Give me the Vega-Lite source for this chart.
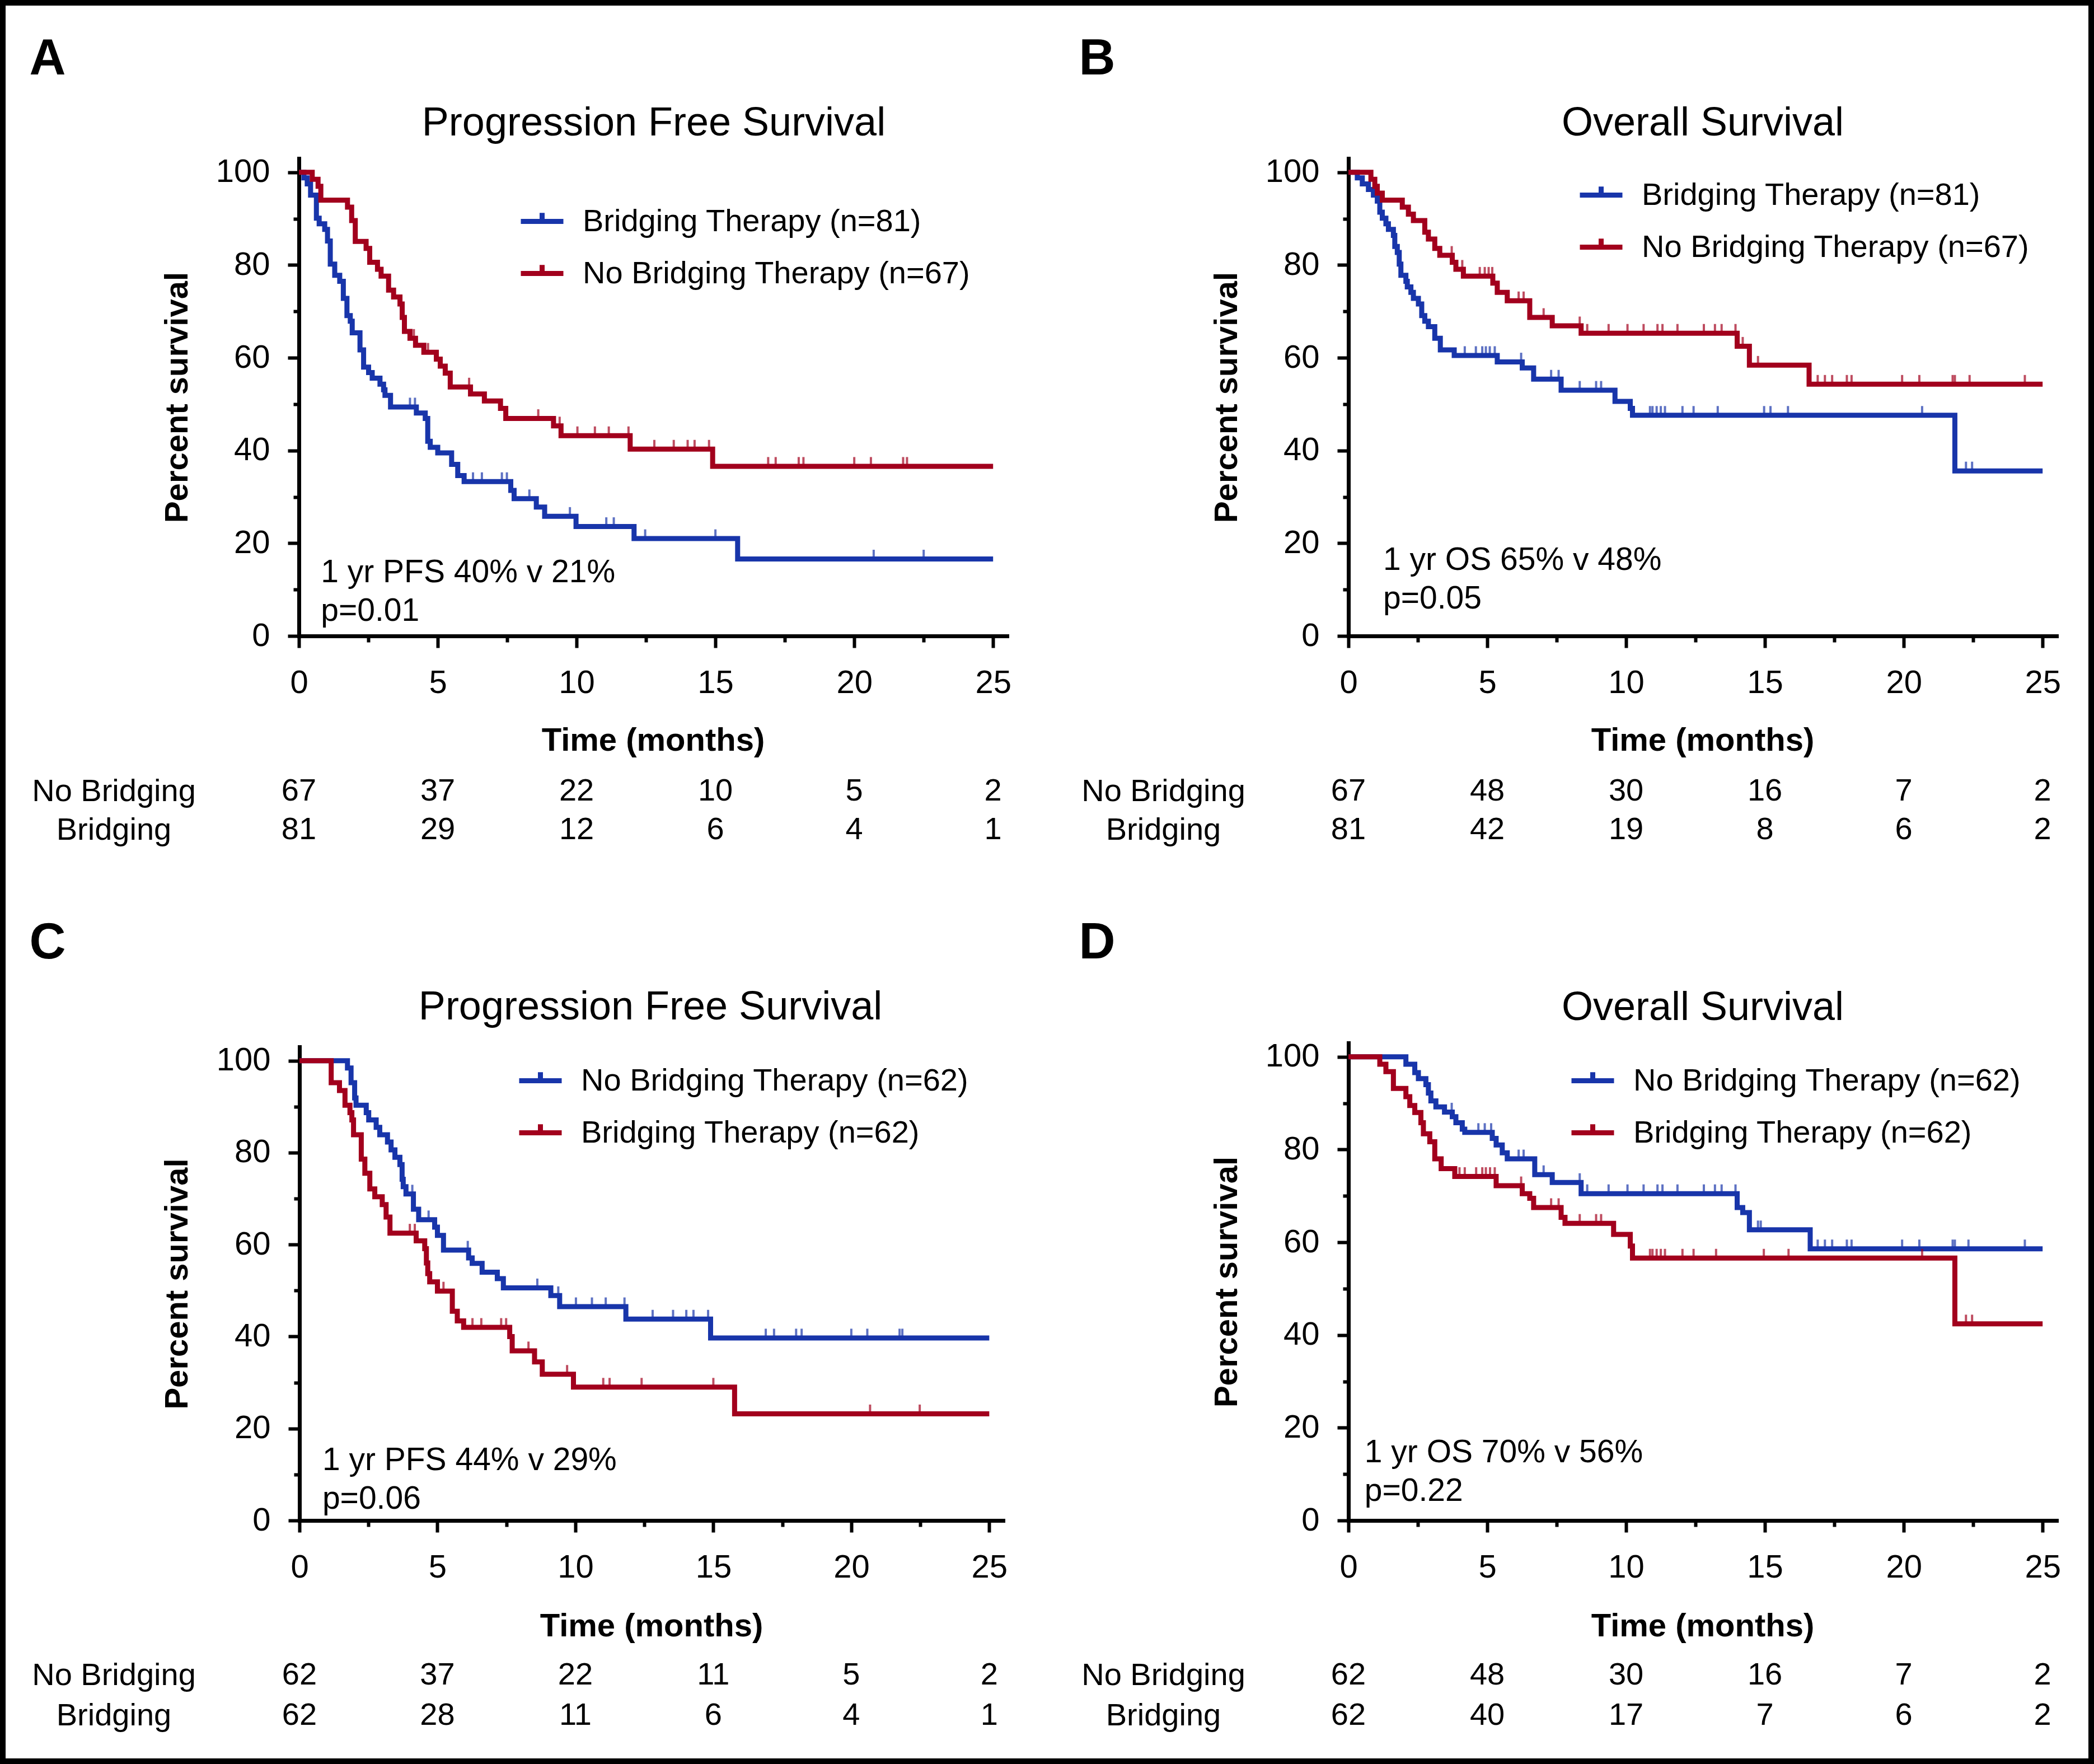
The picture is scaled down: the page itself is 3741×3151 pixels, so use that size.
{
"$schema": "https://vega.github.io/schema/vega-lite/v6.json",
"width": 3741, "height": 3151, "autosize": "none", "padding": 0, "background": "white",
"config": {
  "view": {"stroke": "black", "strokeWidth": 20},
  "font": "Liberation Sans",
  "text": {"color": "black", "font": "Liberation Sans"},
  "axis": {"labelColor": "black", "domainColor": "black", "tickColor": "black", "titleColor": "black", "grid": false, "labelFont": "Liberation Sans", "labelFontSize": 58, "tickWidth": 6, "domainWidth": 7, "domainCap": "square", "labelFlush": false, "labelOverlap": false, "labelBound": false, "labelLimit": 2000, "titleFont": "Liberation Sans", "titleFontWeight": "bold", "titleFontSize": 58},
  "legend": {"orient": "none", "padding": 0, "labelFont": "Liberation Sans", "labelFontSize": 56, "labelColor": "black", "labelLimit": 2000, "symbolSize": 5776, "symbolStrokeWidth": 9, "symbolType": "M-1,0L1,0M0,0L0,-0.4", "labelOffset": 30, "rowPadding": 22}
},
"datasets": {
"km": [
{"p":"A","g":"Br","t":0,"s":100},{"p":"A","g":"Br","t":0.18,"s":98.8},{"p":"A","g":"Br","t":0.3,"s":97.5},{"p":"A","g":"Br","t":0.42,"s":95.1},{"p":"A","g":"Br","t":0.63,"s":90.1},{"p":"A","g":"Br","t":0.73,"s":88.9},{"p":"A","g":"Br","t":0.93,"s":87.7},{"p":"A","g":"Br","t":1.03,"s":85.2},{"p":"A","g":"Br","t":1.13,"s":80.2},{"p":"A","g":"Br","t":1.29,"s":77.8},{"p":"A","g":"Br","t":1.47,"s":76.5},{"p":"A","g":"Br","t":1.6,"s":72.8},{"p":"A","g":"Br","t":1.73,"s":69.1},{"p":"A","g":"Br","t":1.85,"s":67.9},{"p":"A","g":"Br","t":1.92,"s":65.4},{"p":"A","g":"Br","t":2.2,"s":61.7},{"p":"A","g":"Br","t":2.33,"s":58},{"p":"A","g":"Br","t":2.51,"s":56.8},{"p":"A","g":"Br","t":2.64,"s":55.6},{"p":"A","g":"Br","t":2.92,"s":54.3},{"p":"A","g":"Br","t":3.05,"s":53.1},{"p":"A","g":"Br","t":3.1,"s":51.9},{"p":"A","g":"Br","t":3.3,"s":49.4},{"p":"A","g":"Br","t":4.0,"s":49.4,"c":1},{"p":"A","g":"Br","t":4.18,"s":49.4,"c":1},{"p":"A","g":"Br","t":4.23,"s":48.1},{"p":"A","g":"Br","t":4.55,"s":46.9},{"p":"A","g":"Br","t":4.64,"s":42},{"p":"A","g":"Br","t":4.73,"s":40.7},{"p":"A","g":"Br","t":5.0,"s":39.5},{"p":"A","g":"Br","t":5.5,"s":37},{"p":"A","g":"Br","t":5.72,"s":34.6},{"p":"A","g":"Br","t":5.95,"s":33.3},{"p":"A","g":"Br","t":6.27,"s":33.3,"c":1},{"p":"A","g":"Br","t":6.59,"s":33.3,"c":1},{"p":"A","g":"Br","t":7.31,"s":33.3,"c":1},{"p":"A","g":"Br","t":7.49,"s":33.3,"c":1},{"p":"A","g":"Br","t":7.63,"s":31.4},{"p":"A","g":"Br","t":7.75,"s":29.6},{"p":"A","g":"Br","t":8.3,"s":29.6,"c":1},{"p":"A","g":"Br","t":8.55,"s":27.8},{"p":"A","g":"Br","t":8.85,"s":25.8},{"p":"A","g":"Br","t":9.76,"s":25.8,"c":1},{"p":"A","g":"Br","t":9.98,"s":23.6},{"p":"A","g":"Br","t":11.07,"s":23.6,"c":1},{"p":"A","g":"Br","t":11.34,"s":23.6,"c":1},{"p":"A","g":"Br","t":12.07,"s":21},{"p":"A","g":"Br","t":12.47,"s":21,"c":1},{"p":"A","g":"Br","t":15.0,"s":21,"c":1},{"p":"A","g":"Br","t":15.8,"s":16.6},{"p":"A","g":"Br","t":20.7,"s":16.6,"c":1},{"p":"A","g":"Br","t":22.5,"s":16.6,"c":1},{"p":"A","g":"Br","t":25,"s":16.6},
{"p":"A","g":"NB","t":0,"s":100},{"p":"A","g":"NB","t":0.48,"s":98.5},{"p":"A","g":"NB","t":0.69,"s":97},{"p":"A","g":"NB","t":0.79,"s":94},{"p":"A","g":"NB","t":1.75,"s":92.5},{"p":"A","g":"NB","t":1.9,"s":89.6},{"p":"A","g":"NB","t":2.03,"s":85.1},{"p":"A","g":"NB","t":2.42,"s":83.6},{"p":"A","g":"NB","t":2.55,"s":80.6},{"p":"A","g":"NB","t":2.83,"s":79.1},{"p":"A","g":"NB","t":2.96,"s":77.6},{"p":"A","g":"NB","t":3.23,"s":74.6},{"p":"A","g":"NB","t":3.41,"s":73.1},{"p":"A","g":"NB","t":3.64,"s":71.6},{"p":"A","g":"NB","t":3.72,"s":68.7},{"p":"A","g":"NB","t":3.8,"s":65.7},{"p":"A","g":"NB","t":4.0,"s":64.2},{"p":"A","g":"NB","t":4.14,"s":64.2,"c":1},{"p":"A","g":"NB","t":4.2,"s":62.7},{"p":"A","g":"NB","t":4.5,"s":61.2},{"p":"A","g":"NB","t":4.65,"s":61.2,"c":1},{"p":"A","g":"NB","t":4.95,"s":59.7},{"p":"A","g":"NB","t":5.09,"s":58.2},{"p":"A","g":"NB","t":5.27,"s":56.7},{"p":"A","g":"NB","t":5.45,"s":53.7},{"p":"A","g":"NB","t":6.13,"s":53.7,"c":1},{"p":"A","g":"NB","t":6.18,"s":52.2},{"p":"A","g":"NB","t":6.68,"s":50.7},{"p":"A","g":"NB","t":7.26,"s":49.1},{"p":"A","g":"NB","t":7.45,"s":46.9},{"p":"A","g":"NB","t":8.62,"s":46.9,"c":1},{"p":"A","g":"NB","t":9.17,"s":45.3},{"p":"A","g":"NB","t":9.39,"s":45.3,"c":1},{"p":"A","g":"NB","t":9.44,"s":43.2},{"p":"A","g":"NB","t":10.03,"s":43.2,"c":1},{"p":"A","g":"NB","t":10.66,"s":43.2,"c":1},{"p":"A","g":"NB","t":11.16,"s":43.2,"c":1},{"p":"A","g":"NB","t":11.87,"s":43.2,"c":1},{"p":"A","g":"NB","t":11.93,"s":40.3},{"p":"A","g":"NB","t":12.8,"s":40.3,"c":1},{"p":"A","g":"NB","t":13.5,"s":40.3,"c":1},{"p":"A","g":"NB","t":14.0,"s":40.3,"c":1},{"p":"A","g":"NB","t":14.25,"s":40.3,"c":1},{"p":"A","g":"NB","t":14.77,"s":40.3,"c":1},{"p":"A","g":"NB","t":14.9,"s":36.6},{"p":"A","g":"NB","t":16.9,"s":36.6,"c":1},{"p":"A","g":"NB","t":17.17,"s":36.6,"c":1},{"p":"A","g":"NB","t":18.0,"s":36.6,"c":1},{"p":"A","g":"NB","t":18.17,"s":36.6,"c":1},{"p":"A","g":"NB","t":20.0,"s":36.6,"c":1},{"p":"A","g":"NB","t":20.6,"s":36.6,"c":1},{"p":"A","g":"NB","t":21.76,"s":36.6,"c":1},{"p":"A","g":"NB","t":21.9,"s":36.6,"c":1},{"p":"A","g":"NB","t":25,"s":36.6},
{"p":"B","g":"Br","t":0,"s":100},{"p":"B","g":"Br","t":0.32,"s":98.8},{"p":"B","g":"Br","t":0.5,"s":97.5},{"p":"B","g":"Br","t":0.72,"s":96.3},{"p":"B","g":"Br","t":0.9,"s":95.1},{"p":"B","g":"Br","t":1.04,"s":93.8},{"p":"B","g":"Br","t":1.13,"s":91.4},{"p":"B","g":"Br","t":1.22,"s":90.1},{"p":"B","g":"Br","t":1.35,"s":88.9},{"p":"B","g":"Br","t":1.44,"s":87.7},{"p":"B","g":"Br","t":1.62,"s":86.4},{"p":"B","g":"Br","t":1.67,"s":84},{"p":"B","g":"Br","t":1.76,"s":82.7},{"p":"B","g":"Br","t":1.83,"s":80.2},{"p":"B","g":"Br","t":1.89,"s":77.8},{"p":"B","g":"Br","t":2.07,"s":76.5},{"p":"B","g":"Br","t":2.12,"s":75.3},{"p":"B","g":"Br","t":2.25,"s":74.1},{"p":"B","g":"Br","t":2.34,"s":72.8},{"p":"B","g":"Br","t":2.52,"s":71.6},{"p":"B","g":"Br","t":2.64,"s":69.1},{"p":"B","g":"Br","t":2.75,"s":67.9},{"p":"B","g":"Br","t":2.88,"s":66.7},{"p":"B","g":"Br","t":3.11,"s":64.2},{"p":"B","g":"Br","t":3.31,"s":61.7},{"p":"B","g":"Br","t":3.81,"s":60.5},{"p":"B","g":"Br","t":4.19,"s":60.5,"c":1},{"p":"B","g":"Br","t":4.59,"s":60.5,"c":1},{"p":"B","g":"Br","t":4.82,"s":60.5,"c":1},{"p":"B","g":"Br","t":4.95,"s":60.5,"c":1},{"p":"B","g":"Br","t":5.09,"s":60.5,"c":1},{"p":"B","g":"Br","t":5.27,"s":60.5,"c":1},{"p":"B","g":"Br","t":5.36,"s":59.1},{"p":"B","g":"Br","t":6.22,"s":59.1,"c":1},{"p":"B","g":"Br","t":6.26,"s":57.8},{"p":"B","g":"Br","t":6.67,"s":55.4},{"p":"B","g":"Br","t":7.3,"s":55.4,"c":1},{"p":"B","g":"Br","t":7.57,"s":55.4,"c":1},{"p":"B","g":"Br","t":7.66,"s":53},{"p":"B","g":"Br","t":8.33,"s":53,"c":1},{"p":"B","g":"Br","t":8.92,"s":53,"c":1},{"p":"B","g":"Br","t":9.1,"s":53,"c":1},{"p":"B","g":"Br","t":9.6,"s":50.6},{"p":"B","g":"Br","t":10.15,"s":49.1},{"p":"B","g":"Br","t":10.23,"s":47.6},{"p":"B","g":"Br","t":10.86,"s":47.6,"c":1},{"p":"B","g":"Br","t":10.95,"s":47.6,"c":1},{"p":"B","g":"Br","t":11.1,"s":47.6,"c":1},{"p":"B","g":"Br","t":11.25,"s":47.6,"c":1},{"p":"B","g":"Br","t":11.4,"s":47.6,"c":1},{"p":"B","g":"Br","t":12.03,"s":47.6,"c":1},{"p":"B","g":"Br","t":12.43,"s":47.6,"c":1},{"p":"B","g":"Br","t":13.3,"s":47.6,"c":1},{"p":"B","g":"Br","t":14.97,"s":47.6,"c":1},{"p":"B","g":"Br","t":15.2,"s":47.6,"c":1},{"p":"B","g":"Br","t":15.83,"s":47.6,"c":1},{"p":"B","g":"Br","t":20.66,"s":47.6,"c":1},{"p":"B","g":"Br","t":21.84,"s":35.6},{"p":"B","g":"Br","t":22.24,"s":35.6,"c":1},{"p":"B","g":"Br","t":22.46,"s":35.6,"c":1},{"p":"B","g":"Br","t":25,"s":35.6},
{"p":"B","g":"NB","t":0,"s":100},{"p":"B","g":"NB","t":0.81,"s":98.5},{"p":"B","g":"NB","t":0.95,"s":97},{"p":"B","g":"NB","t":1.04,"s":95.5},{"p":"B","g":"NB","t":1.22,"s":94},{"p":"B","g":"NB","t":1.94,"s":92.5},{"p":"B","g":"NB","t":2.16,"s":91},{"p":"B","g":"NB","t":2.34,"s":89.6},{"p":"B","g":"NB","t":2.75,"s":87.1},{"p":"B","g":"NB","t":2.88,"s":85.6},{"p":"B","g":"NB","t":3.11,"s":83.6},{"p":"B","g":"NB","t":3.29,"s":82.1},{"p":"B","g":"NB","t":3.72,"s":82.1,"c":1},{"p":"B","g":"NB","t":3.74,"s":80.6},{"p":"B","g":"NB","t":3.87,"s":79.1},{"p":"B","g":"NB","t":4.1,"s":79.1,"c":1},{"p":"B","g":"NB","t":4.14,"s":77.6},{"p":"B","g":"NB","t":4.73,"s":77.6,"c":1},{"p":"B","g":"NB","t":4.91,"s":77.6,"c":1},{"p":"B","g":"NB","t":5.05,"s":77.6,"c":1},{"p":"B","g":"NB","t":5.18,"s":77.6,"c":1},{"p":"B","g":"NB","t":5.2,"s":76.1},{"p":"B","g":"NB","t":5.36,"s":74.1},{"p":"B","g":"NB","t":5.72,"s":72.3},{"p":"B","g":"NB","t":6.13,"s":72.3,"c":1},{"p":"B","g":"NB","t":6.31,"s":72.3,"c":1},{"p":"B","g":"NB","t":6.53,"s":68.7},{"p":"B","g":"NB","t":7.03,"s":68.7,"c":1},{"p":"B","g":"NB","t":7.34,"s":66.9},{"p":"B","g":"NB","t":8.33,"s":66.9,"c":1},{"p":"B","g":"NB","t":8.38,"s":65.3},{"p":"B","g":"NB","t":8.6,"s":65.3,"c":1},{"p":"B","g":"NB","t":9.37,"s":65.3,"c":1},{"p":"B","g":"NB","t":10.05,"s":65.3,"c":1},{"p":"B","g":"NB","t":10.63,"s":65.3,"c":1},{"p":"B","g":"NB","t":11.13,"s":65.3,"c":1},{"p":"B","g":"NB","t":11.31,"s":65.3,"c":1},{"p":"B","g":"NB","t":11.85,"s":65.3,"c":1},{"p":"B","g":"NB","t":12.8,"s":65.3,"c":1},{"p":"B","g":"NB","t":13.2,"s":65.3,"c":1},{"p":"B","g":"NB","t":13.44,"s":65.3,"c":1},{"p":"B","g":"NB","t":13.94,"s":65.3,"c":1},{"p":"B","g":"NB","t":14.0,"s":62.5},{"p":"B","g":"NB","t":14.2,"s":62.5,"c":1},{"p":"B","g":"NB","t":14.44,"s":58.4},{"p":"B","g":"NB","t":14.75,"s":58.4,"c":1},{"p":"B","g":"NB","t":16.59,"s":54.3},{"p":"B","g":"NB","t":16.9,"s":54.3,"c":1},{"p":"B","g":"NB","t":17.16,"s":54.3,"c":1},{"p":"B","g":"NB","t":17.42,"s":54.3,"c":1},{"p":"B","g":"NB","t":17.95,"s":54.3,"c":1},{"p":"B","g":"NB","t":18.12,"s":54.3,"c":1},{"p":"B","g":"NB","t":19.94,"s":54.3,"c":1},{"p":"B","g":"NB","t":20.56,"s":54.3,"c":1},{"p":"B","g":"NB","t":21.76,"s":54.3,"c":1},{"p":"B","g":"NB","t":21.84,"s":54.3,"c":1},{"p":"B","g":"NB","t":22.37,"s":54.3,"c":1},{"p":"B","g":"NB","t":24.36,"s":54.3,"c":1},{"p":"B","g":"NB","t":25,"s":54.3},
{"p":"C","g":"NB","t":0,"s":100},{"p":"C","g":"NB","t":1.74,"s":98.4},{"p":"C","g":"NB","t":1.87,"s":95.2},{"p":"C","g":"NB","t":2.0,"s":91.9},{"p":"C","g":"NB","t":2.05,"s":90.3},{"p":"C","g":"NB","t":2.42,"s":88.7},{"p":"C","g":"NB","t":2.51,"s":87.1},{"p":"C","g":"NB","t":2.78,"s":85.5},{"p":"C","g":"NB","t":2.91,"s":83.9},{"p":"C","g":"NB","t":3.19,"s":82.3},{"p":"C","g":"NB","t":3.32,"s":80.6},{"p":"C","g":"NB","t":3.46,"s":79},{"p":"C","g":"NB","t":3.64,"s":77.4},{"p":"C","g":"NB","t":3.72,"s":74.2},{"p":"C","g":"NB","t":3.76,"s":72.6},{"p":"C","g":"NB","t":3.86,"s":71},{"p":"C","g":"NB","t":4.09,"s":71,"c":1},{"p":"C","g":"NB","t":4.13,"s":67.7},{"p":"C","g":"NB","t":4.32,"s":65.4},{"p":"C","g":"NB","t":4.68,"s":65.4,"c":1},{"p":"C","g":"NB","t":4.9,"s":63.8},{"p":"C","g":"NB","t":5.0,"s":62},{"p":"C","g":"NB","t":5.22,"s":58.8},{"p":"C","g":"NB","t":6.1,"s":58.8,"c":1},{"p":"C","g":"NB","t":6.13,"s":57.1},{"p":"C","g":"NB","t":6.26,"s":55.9},{"p":"C","g":"NB","t":6.62,"s":54},{"p":"C","g":"NB","t":7.17,"s":52.6},{"p":"C","g":"NB","t":7.39,"s":50.6},{"p":"C","g":"NB","t":8.62,"s":50.6,"c":1},{"p":"C","g":"NB","t":9.11,"s":48.9},{"p":"C","g":"NB","t":9.38,"s":48.9,"c":1},{"p":"C","g":"NB","t":9.43,"s":46.5},{"p":"C","g":"NB","t":10.02,"s":46.5,"c":1},{"p":"C","g":"NB","t":10.6,"s":46.5,"c":1},{"p":"C","g":"NB","t":11.1,"s":46.5,"c":1},{"p":"C","g":"NB","t":11.78,"s":46.5,"c":1},{"p":"C","g":"NB","t":11.83,"s":43.8},{"p":"C","g":"NB","t":12.8,"s":43.8,"c":1},{"p":"C","g":"NB","t":13.54,"s":43.8,"c":1},{"p":"C","g":"NB","t":14.02,"s":43.8,"c":1},{"p":"C","g":"NB","t":14.28,"s":43.8,"c":1},{"p":"C","g":"NB","t":14.81,"s":43.8,"c":1},{"p":"C","g":"NB","t":14.9,"s":39.7},{"p":"C","g":"NB","t":16.9,"s":39.7,"c":1},{"p":"C","g":"NB","t":17.2,"s":39.7,"c":1},{"p":"C","g":"NB","t":18.0,"s":39.7,"c":1},{"p":"C","g":"NB","t":18.2,"s":39.7,"c":1},{"p":"C","g":"NB","t":20.0,"s":39.7,"c":1},{"p":"C","g":"NB","t":20.58,"s":39.7,"c":1},{"p":"C","g":"NB","t":21.75,"s":39.7,"c":1},{"p":"C","g":"NB","t":21.85,"s":39.7,"c":1},{"p":"C","g":"NB","t":25,"s":39.7},
{"p":"C","g":"Br","t":0,"s":100},{"p":"C","g":"Br","t":1.15,"s":95.2},{"p":"C","g":"Br","t":1.45,"s":93.5},{"p":"C","g":"Br","t":1.65,"s":90.3},{"p":"C","g":"Br","t":1.83,"s":88.7},{"p":"C","g":"Br","t":1.9,"s":87.1},{"p":"C","g":"Br","t":1.96,"s":83.9},{"p":"C","g":"Br","t":2.24,"s":78.6},{"p":"C","g":"Br","t":2.37,"s":75.5},{"p":"C","g":"Br","t":2.55,"s":72.1},{"p":"C","g":"Br","t":2.73,"s":70.4},{"p":"C","g":"Br","t":3.0,"s":68.7},{"p":"C","g":"Br","t":3.14,"s":66},{"p":"C","g":"Br","t":3.28,"s":62.5},{"p":"C","g":"Br","t":4.0,"s":62.5,"c":1},{"p":"C","g":"Br","t":4.18,"s":62.5,"c":1},{"p":"C","g":"Br","t":4.23,"s":60.8},{"p":"C","g":"Br","t":4.54,"s":59.1},{"p":"C","g":"Br","t":4.6,"s":56},{"p":"C","g":"Br","t":4.65,"s":53.7},{"p":"C","g":"Br","t":4.72,"s":51.9},{"p":"C","g":"Br","t":5.0,"s":49.9},{"p":"C","g":"Br","t":5.22,"s":49.9,"c":1},{"p":"C","g":"Br","t":5.54,"s":45.5},{"p":"C","g":"Br","t":5.72,"s":43.4},{"p":"C","g":"Br","t":5.95,"s":42},{"p":"C","g":"Br","t":6.27,"s":42,"c":1},{"p":"C","g":"Br","t":6.59,"s":42,"c":1},{"p":"C","g":"Br","t":7.31,"s":42,"c":1},{"p":"C","g":"Br","t":7.49,"s":42,"c":1},{"p":"C","g":"Br","t":7.62,"s":40},{"p":"C","g":"Br","t":7.71,"s":36.9},{"p":"C","g":"Br","t":8.3,"s":36.9,"c":1},{"p":"C","g":"Br","t":8.52,"s":34.5},{"p":"C","g":"Br","t":8.8,"s":31.8},{"p":"C","g":"Br","t":9.7,"s":31.8,"c":1},{"p":"C","g":"Br","t":9.93,"s":29},{"p":"C","g":"Br","t":11.01,"s":29,"c":1},{"p":"C","g":"Br","t":11.24,"s":29,"c":1},{"p":"C","g":"Br","t":12.4,"s":29,"c":1},{"p":"C","g":"Br","t":15.0,"s":29,"c":1},{"p":"C","g":"Br","t":15.77,"s":23.2},{"p":"C","g":"Br","t":20.68,"s":23.2,"c":1},{"p":"C","g":"Br","t":22.48,"s":23.2,"c":1},{"p":"C","g":"Br","t":25,"s":23.2},
{"p":"D","g":"NB","t":0,"s":100},{"p":"D","g":"NB","t":2.07,"s":98.4},{"p":"D","g":"NB","t":2.39,"s":96.6},{"p":"D","g":"NB","t":2.52,"s":95.3},{"p":"D","g":"NB","t":2.79,"s":94},{"p":"D","g":"NB","t":2.88,"s":92.2},{"p":"D","g":"NB","t":2.97,"s":90.5},{"p":"D","g":"NB","t":3.15,"s":89.2},{"p":"D","g":"NB","t":3.46,"s":88.1},{"p":"D","g":"NB","t":3.72,"s":88.1,"c":1},{"p":"D","g":"NB","t":3.74,"s":87.1},{"p":"D","g":"NB","t":3.87,"s":85.8},{"p":"D","g":"NB","t":4.1,"s":84.4},{"p":"D","g":"NB","t":4.19,"s":83.7},{"p":"D","g":"NB","t":4.68,"s":83.7,"c":1},{"p":"D","g":"NB","t":4.91,"s":83.7,"c":1},{"p":"D","g":"NB","t":5.14,"s":83.7,"c":1},{"p":"D","g":"NB","t":5.18,"s":82.4},{"p":"D","g":"NB","t":5.32,"s":81},{"p":"D","g":"NB","t":5.54,"s":79.3},{"p":"D","g":"NB","t":5.72,"s":78},{"p":"D","g":"NB","t":6.13,"s":78,"c":1},{"p":"D","g":"NB","t":6.31,"s":78,"c":1},{"p":"D","g":"NB","t":6.71,"s":74.6},{"p":"D","g":"NB","t":7.03,"s":74.6,"c":1},{"p":"D","g":"NB","t":7.34,"s":72.9},{"p":"D","g":"NB","t":8.33,"s":72.9,"c":1},{"p":"D","g":"NB","t":8.38,"s":70.5},{"p":"D","g":"NB","t":8.6,"s":70.5,"c":1},{"p":"D","g":"NB","t":9.37,"s":70.5,"c":1},{"p":"D","g":"NB","t":10.05,"s":70.5,"c":1},{"p":"D","g":"NB","t":10.63,"s":70.5,"c":1},{"p":"D","g":"NB","t":11.13,"s":70.5,"c":1},{"p":"D","g":"NB","t":11.31,"s":70.5,"c":1},{"p":"D","g":"NB","t":11.85,"s":70.5,"c":1},{"p":"D","g":"NB","t":12.8,"s":70.5,"c":1},{"p":"D","g":"NB","t":13.2,"s":70.5,"c":1},{"p":"D","g":"NB","t":13.44,"s":70.5,"c":1},{"p":"D","g":"NB","t":13.94,"s":70.5,"c":1},{"p":"D","g":"NB","t":14.0,"s":67.5},{"p":"D","g":"NB","t":14.2,"s":66.4},{"p":"D","g":"NB","t":14.44,"s":62.7},{"p":"D","g":"NB","t":14.75,"s":62.7,"c":1},{"p":"D","g":"NB","t":14.85,"s":62.7,"c":1},{"p":"D","g":"NB","t":16.63,"s":58.6},{"p":"D","g":"NB","t":16.9,"s":58.6,"c":1},{"p":"D","g":"NB","t":17.16,"s":58.6,"c":1},{"p":"D","g":"NB","t":17.42,"s":58.6,"c":1},{"p":"D","g":"NB","t":17.95,"s":58.6,"c":1},{"p":"D","g":"NB","t":18.12,"s":58.6,"c":1},{"p":"D","g":"NB","t":19.94,"s":58.6,"c":1},{"p":"D","g":"NB","t":20.56,"s":58.6,"c":1},{"p":"D","g":"NB","t":21.76,"s":58.6,"c":1},{"p":"D","g":"NB","t":21.84,"s":58.6,"c":1},{"p":"D","g":"NB","t":22.33,"s":58.6,"c":1},{"p":"D","g":"NB","t":24.36,"s":58.6,"c":1},{"p":"D","g":"NB","t":25,"s":58.6},
{"p":"D","g":"Br","t":0,"s":100},{"p":"D","g":"Br","t":1.13,"s":98.4},{"p":"D","g":"Br","t":1.35,"s":96.8},{"p":"D","g":"Br","t":1.62,"s":93.2},{"p":"D","g":"Br","t":2.07,"s":91.4},{"p":"D","g":"Br","t":2.21,"s":89.5},{"p":"D","g":"Br","t":2.39,"s":88},{"p":"D","g":"Br","t":2.61,"s":85.8},{"p":"D","g":"Br","t":2.7,"s":83.4},{"p":"D","g":"Br","t":2.93,"s":81.7},{"p":"D","g":"Br","t":3.11,"s":78},{"p":"D","g":"Br","t":3.34,"s":75.9},{"p":"D","g":"Br","t":3.83,"s":74.2},{"p":"D","g":"Br","t":4.0,"s":74.2,"c":1},{"p":"D","g":"Br","t":4.19,"s":74.2,"c":1},{"p":"D","g":"Br","t":4.6,"s":74.2,"c":1},{"p":"D","g":"Br","t":4.82,"s":74.2,"c":1},{"p":"D","g":"Br","t":4.95,"s":74.2,"c":1},{"p":"D","g":"Br","t":5.1,"s":74.2,"c":1},{"p":"D","g":"Br","t":5.27,"s":74.2,"c":1},{"p":"D","g":"Br","t":5.32,"s":72.2},{"p":"D","g":"Br","t":6.22,"s":72.2,"c":1},{"p":"D","g":"Br","t":6.26,"s":70.5},{"p":"D","g":"Br","t":6.53,"s":69.5},{"p":"D","g":"Br","t":6.67,"s":67.5},{"p":"D","g":"Br","t":7.3,"s":67.5,"c":1},{"p":"D","g":"Br","t":7.57,"s":67.5,"c":1},{"p":"D","g":"Br","t":7.66,"s":65.4},{"p":"D","g":"Br","t":7.8,"s":64.1},{"p":"D","g":"Br","t":8.33,"s":64.1,"c":1},{"p":"D","g":"Br","t":8.92,"s":64.1,"c":1},{"p":"D","g":"Br","t":9.1,"s":64.1,"c":1},{"p":"D","g":"Br","t":9.55,"s":61.7},{"p":"D","g":"Br","t":10.15,"s":59.2},{"p":"D","g":"Br","t":10.23,"s":56.6},{"p":"D","g":"Br","t":10.86,"s":56.6,"c":1},{"p":"D","g":"Br","t":10.95,"s":56.6,"c":1},{"p":"D","g":"Br","t":11.1,"s":56.6,"c":1},{"p":"D","g":"Br","t":11.25,"s":56.6,"c":1},{"p":"D","g":"Br","t":11.4,"s":56.6,"c":1},{"p":"D","g":"Br","t":12.03,"s":56.6,"c":1},{"p":"D","g":"Br","t":12.43,"s":56.6,"c":1},{"p":"D","g":"Br","t":13.24,"s":56.6,"c":1},{"p":"D","g":"Br","t":14.96,"s":56.6,"c":1},{"p":"D","g":"Br","t":15.85,"s":56.6,"c":1},{"p":"D","g":"Br","t":20.66,"s":56.6,"c":1},{"p":"D","g":"Br","t":21.84,"s":42.4},{"p":"D","g":"Br","t":22.24,"s":42.4,"c":1},{"p":"D","g":"Br","t":22.46,"s":42.4,"c":1},{"p":"D","g":"Br","t":25,"s":42.4}
],
"risk": [
{"p":"A","r":"No Bridging","t":0,"n":67},{"p":"A","r":"No Bridging","t":5,"n":37},{"p":"A","r":"No Bridging","t":10,"n":22},{"p":"A","r":"No Bridging","t":15,"n":10},{"p":"A","r":"No Bridging","t":20,"n":5},{"p":"A","r":"No Bridging","t":25,"n":2},
{"p":"A","r":"Bridging","t":0,"n":81},{"p":"A","r":"Bridging","t":5,"n":29},{"p":"A","r":"Bridging","t":10,"n":12},{"p":"A","r":"Bridging","t":15,"n":6},{"p":"A","r":"Bridging","t":20,"n":4},{"p":"A","r":"Bridging","t":25,"n":1},
{"p":"B","r":"No Bridging","t":0,"n":67},{"p":"B","r":"No Bridging","t":5,"n":48},{"p":"B","r":"No Bridging","t":10,"n":30},{"p":"B","r":"No Bridging","t":15,"n":16},{"p":"B","r":"No Bridging","t":20,"n":7},{"p":"B","r":"No Bridging","t":25,"n":2},
{"p":"B","r":"Bridging","t":0,"n":81},{"p":"B","r":"Bridging","t":5,"n":42},{"p":"B","r":"Bridging","t":10,"n":19},{"p":"B","r":"Bridging","t":15,"n":8},{"p":"B","r":"Bridging","t":20,"n":6},{"p":"B","r":"Bridging","t":25,"n":2},
{"p":"C","r":"No Bridging","t":0,"n":62},{"p":"C","r":"No Bridging","t":5,"n":37},{"p":"C","r":"No Bridging","t":10,"n":22},{"p":"C","r":"No Bridging","t":15,"n":11},{"p":"C","r":"No Bridging","t":20,"n":5},{"p":"C","r":"No Bridging","t":25,"n":2},
{"p":"C","r":"Bridging","t":0,"n":62},{"p":"C","r":"Bridging","t":5,"n":28},{"p":"C","r":"Bridging","t":10,"n":11},{"p":"C","r":"Bridging","t":15,"n":6},{"p":"C","r":"Bridging","t":20,"n":4},{"p":"C","r":"Bridging","t":25,"n":1},
{"p":"D","r":"No Bridging","t":0,"n":62},{"p":"D","r":"No Bridging","t":5,"n":48},{"p":"D","r":"No Bridging","t":10,"n":30},{"p":"D","r":"No Bridging","t":15,"n":16},{"p":"D","r":"No Bridging","t":20,"n":7},{"p":"D","r":"No Bridging","t":25,"n":2},
{"p":"D","r":"Bridging","t":0,"n":62},{"p":"D","r":"Bridging","t":5,"n":40},{"p":"D","r":"Bridging","t":10,"n":17},{"p":"D","r":"Bridging","t":15,"n":7},{"p":"D","r":"Bridging","t":20,"n":6},{"p":"D","r":"Bridging","t":25,"n":2}
]
},
"layer": [
{
 "layer": [
  {"layer": [
   {"data": {"name": "km"}, "transform": [{"filter": "datum.p === 'A'"}],
    "mark": {"type": "line", "interpolate": "step-after", "strokeWidth": 9},
    "encoding": {
     "x": {"field": "t", "type": "quantitative", "scale": {"domain": [0, 25.5], "range": [534, 1799], "nice": false, "zero": false},
       "axis": {"orient": "bottom", "offset": -2015, "values": [0,5,10,15,20,25], "labelExpr": "'' + datum.value", "tickSize": 21, "labelPadding": 34, "title": "Time (months)", "titleY": 204, "titleBaseline": "alphabetic"}},
     "y": {"field": "s", "type": "quantitative", "scale": {"domain": [0, 103], "range": [1136, 283], "nice": false, "zero": false},
       "axis": {"orient": "left", "offset": -534, "values": [0,20,40,60,80,100], "labelExpr": "'' + datum.value", "tickSize": 20, "labelPadding": 32, "title": "Percent survival", "titleX": -200, "titleBaseline": "alphabetic"}},
     "color": {"field": "g", "type": "nominal", "scale": {"domain": ["Br", "NB"], "range": ["#1835AA", "#A2001D"]},
       "legend": {"title": null, "legendX": 926, "legendY": 353, "labelExpr": "datum.label === 'Br' ? 'Bridging Therapy (n=81)' : 'No Bridging Therapy (n=67)'"}}
    }},
   {"data": {"name": "km"}, "transform": [{"filter": "datum.p === 'A' && datum.c === 1"}],
    "mark": {"type": "tick", "orient": "vertical", "thickness": 4, "size": 17, "yOffset": -8},
    "encoding": {
     "x": {"field": "t", "type": "quantitative", "axis": {"orient": "top", "offset": -1136, "values": [2.5,7.5,12.5,17.5,22.5], "tickSize": -11, "labels": false, "domain": false, "title": null}},
     "y": {"field": "s", "type": "quantitative", "axis": {"orient": "right", "offset": -3207, "values": [10,30,50,70,90], "tickSize": -10, "labels": false, "domain": false, "title": null}},
     "color": {"field": "g", "type": "nominal", "legend": null}}},
   {"data": {"values": [{}]}, "mark": {"type": "text", "text": "Progression Free Survival", "fontSize": 72, "align": "center", "baseline": "alphabetic"},
    "encoding": {"x": {"datum": 12.78, "type": "quantitative", "axis": null}, "y": {"datum": 108.0, "type": "quantitative", "axis": null}}},
   {"data": {"values": [{}]}, "mark": {"type": "text", "text": "A", "fontSize": 90, "fontWeight": "bold", "align": "center", "baseline": "alphabetic"},
    "encoding": {"x": {"datum": -9.05, "type": "quantitative", "axis": null}, "y": {"datum": 121.1, "type": "quantitative", "axis": null}}},
   {"data": {"values": [{}]}, "mark": {"type": "text", "text": ["1 yr PFS 40% v 21%", "p=0.01"], "fontSize": 57, "lineHeight": 69, "align": "left", "baseline": "alphabetic"},
    "encoding": {"x": {"datum": 0.79, "type": "quantitative", "axis": null}, "y": {"datum": 11.6, "type": "quantitative", "axis": null}}}
  ]},
  {"data": {"name": "risk"}, "transform": [{"filter": "datum.p === 'A'"}],
   "mark": {"type": "text", "fontSize": 56, "align": "center", "baseline": "middle"},
   "encoding": {
    "x": {"field": "t", "type": "quantitative", "axis": null},
    "y": {"field": "r", "type": "nominal", "scale": {"type": "point", "domain": ["No Bridging", "Bridging"], "range": [1413, 1482], "padding": 0},
      "axis": {"orient": "left", "offset": -203, "domain": false, "ticks": false, "tickSize": 0, "labelPadding": 0, "labelAlign": "center", "labelBaseline": "middle", "labelFontSize": 56, "labelLimit": 2000, "title": null}},
    "text": {"field": "n", "type": "quantitative"}
   }}
 ],
 "resolve": {"scale": {"y": "independent"}}
},
{
 "layer": [
  {"layer": [
   {"data": {"name": "km"}, "transform": [{"filter": "datum.p === 'B'"}],
    "mark": {"type": "line", "interpolate": "step-after", "strokeWidth": 9},
    "encoding": {
     "x": {"field": "t", "type": "quantitative", "scale": {"domain": [0, 25.5], "range": [2409, 3674], "nice": false, "zero": false},
       "axis": {"orient": "bottom", "offset": -2015, "values": [0,5,10,15,20,25], "labelExpr": "'' + datum.value", "tickSize": 21, "labelPadding": 34, "title": "Time (months)", "titleY": 204, "titleBaseline": "alphabetic"}},
     "y": {"field": "s", "type": "quantitative", "scale": {"domain": [0, 103], "range": [1136, 283], "nice": false, "zero": false},
       "axis": {"orient": "left", "offset": -2409, "values": [0,20,40,60,80,100], "labelExpr": "'' + datum.value", "tickSize": 20, "labelPadding": 32, "title": "Percent survival", "titleX": -200, "titleBaseline": "alphabetic"}},
     "color": {"field": "g", "type": "nominal", "scale": {"domain": ["Br", "NB"], "range": ["#1835AA", "#A2001D"]},
       "legend": {"title": null, "legendX": 2818, "legendY": 306, "labelExpr": "datum.label === 'Br' ? 'Bridging Therapy (n=81)' : 'No Bridging Therapy (n=67)'"}}
    }},
   {"data": {"name": "km"}, "transform": [{"filter": "datum.p === 'B' && datum.c === 1"}],
    "mark": {"type": "tick", "orient": "vertical", "thickness": 4, "size": 17, "yOffset": -8},
    "encoding": {
     "x": {"field": "t", "type": "quantitative", "axis": {"orient": "top", "offset": -1136, "values": [2.5,7.5,12.5,17.5,22.5], "tickSize": -11, "labels": false, "domain": false, "title": null}},
     "y": {"field": "s", "type": "quantitative", "axis": {"orient": "right", "offset": -1332, "values": [10,30,50,70,90], "tickSize": -10, "labels": false, "domain": false, "title": null}},
     "color": {"field": "g", "type": "nominal", "legend": null}}},
   {"data": {"values": [{}]}, "mark": {"type": "text", "text": "Overall Survival", "fontSize": 72, "align": "center", "baseline": "alphabetic"},
    "encoding": {"x": {"datum": 12.76, "type": "quantitative", "axis": null}, "y": {"datum": 108.0, "type": "quantitative", "axis": null}}},
   {"data": {"values": [{}]}, "mark": {"type": "text", "text": "B", "fontSize": 90, "fontWeight": "bold", "align": "center", "baseline": "alphabetic"},
    "encoding": {"x": {"datum": -9.05, "type": "quantitative", "axis": null}, "y": {"datum": 121.1, "type": "quantitative", "axis": null}}},
   {"data": {"values": [{}]}, "mark": {"type": "text", "text": ["1 yr OS 65% v 48%", "p=0.05"], "fontSize": 57, "lineHeight": 69, "align": "left", "baseline": "alphabetic"},
    "encoding": {"x": {"datum": 1.25, "type": "quantitative", "axis": null}, "y": {"datum": 14.2, "type": "quantitative", "axis": null}}}
  ]},
  {"data": {"name": "risk"}, "transform": [{"filter": "datum.p === 'B'"}],
   "mark": {"type": "text", "fontSize": 56, "align": "center", "baseline": "middle"},
   "encoding": {
    "x": {"field": "t", "type": "quantitative", "axis": null},
    "y": {"field": "r", "type": "nominal", "scale": {"type": "point", "domain": ["No Bridging", "Bridging"], "range": [1413, 1482], "padding": 0},
      "axis": {"orient": "left", "offset": -2078, "domain": false, "ticks": false, "tickSize": 0, "labelPadding": 0, "labelAlign": "center", "labelBaseline": "middle", "labelFontSize": 56, "labelLimit": 2000, "title": null}},
    "text": {"field": "n", "type": "quantitative"}
   }}
 ],
 "resolve": {"scale": {"y": "independent"}}
},
{
 "layer": [
  {"layer": [
   {"data": {"name": "km"}, "transform": [{"filter": "datum.p === 'C'"}],
    "mark": {"type": "line", "interpolate": "step-after", "strokeWidth": 9},
    "encoding": {
     "x": {"field": "t", "type": "quantitative", "scale": {"domain": [0, 25.5], "range": [535, 1792], "nice": false, "zero": false},
       "axis": {"orient": "bottom", "offset": -435, "values": [0,5,10,15,20,25], "labelExpr": "'' + datum.value", "tickSize": 21, "labelPadding": 34, "title": "Time (months)", "titleY": 206, "titleBaseline": "alphabetic"}},
     "y": {"field": "s", "type": "quantitative", "scale": {"domain": [0, 103], "range": [2716, 1870], "nice": false, "zero": false},
       "axis": {"orient": "left", "offset": -535, "values": [0,20,40,60,80,100], "labelExpr": "'' + datum.value", "tickSize": 20, "labelPadding": 32, "title": "Percent survival", "titleX": -201, "titleBaseline": "alphabetic"}},
     "color": {"field": "g", "type": "nominal", "scale": {"domain": ["NB", "Br"], "range": ["#1835AA", "#A2001D"]},
       "legend": {"title": null, "legendX": 923, "legendY": 1888, "labelExpr": "datum.label === 'Br' ? 'Bridging Therapy (n=62)' : 'No Bridging Therapy (n=62)'"}}
    }},
   {"data": {"name": "km"}, "transform": [{"filter": "datum.p === 'C' && datum.c === 1"}],
    "mark": {"type": "tick", "orient": "vertical", "thickness": 4, "size": 17, "yOffset": -8},
    "encoding": {
     "x": {"field": "t", "type": "quantitative", "axis": {"orient": "top", "offset": -2716, "values": [2.5,7.5,12.5,17.5,22.5], "tickSize": -11, "labels": false, "domain": false, "title": null}},
     "y": {"field": "s", "type": "quantitative", "axis": {"orient": "right", "offset": -3206, "values": [10,30,50,70,90], "tickSize": -10, "labels": false, "domain": false, "title": null}},
     "color": {"field": "g", "type": "nominal", "legend": null}}},
   {"data": {"values": [{}]}, "mark": {"type": "text", "text": "Progression Free Survival", "fontSize": 72, "align": "center", "baseline": "alphabetic"},
    "encoding": {"x": {"datum": 12.72, "type": "quantitative", "axis": null}, "y": {"datum": 108.95, "type": "quantitative", "axis": null}}},
   {"data": {"values": [{}]}, "mark": {"type": "text", "text": "C", "fontSize": 90, "fontWeight": "bold", "align": "center", "baseline": "alphabetic"},
    "encoding": {"x": {"datum": -9.13, "type": "quantitative", "axis": null}, "y": {"datum": 122.2, "type": "quantitative", "axis": null}}},
   {"data": {"values": [{}]}, "mark": {"type": "text", "text": ["1 yr PFS 44% v 29%", "p=0.06"], "fontSize": 57, "lineHeight": 69, "align": "left", "baseline": "alphabetic"},
    "encoding": {"x": {"datum": 0.83, "type": "quantitative", "axis": null}, "y": {"datum": 11.0, "type": "quantitative", "axis": null}}}
  ]},
  {"data": {"name": "risk"}, "transform": [{"filter": "datum.p === 'C'"}],
   "mark": {"type": "text", "fontSize": 56, "align": "center", "baseline": "middle"},
   "encoding": {
    "x": {"field": "t", "type": "quantitative", "axis": null},
    "y": {"field": "r", "type": "nominal", "scale": {"type": "point", "domain": ["No Bridging", "Bridging"], "range": [2992, 3064], "padding": 0},
      "axis": {"orient": "left", "offset": -203, "domain": false, "ticks": false, "tickSize": 0, "labelPadding": 0, "labelAlign": "center", "labelBaseline": "middle", "labelFontSize": 56, "labelLimit": 2000, "title": null}},
    "text": {"field": "n", "type": "quantitative"}
   }}
 ],
 "resolve": {"scale": {"y": "independent"}}
},
{
 "layer": [
  {"layer": [
   {"data": {"name": "km"}, "transform": [{"filter": "datum.p === 'D'"}],
    "mark": {"type": "line", "interpolate": "step-after", "strokeWidth": 9},
    "encoding": {
     "x": {"field": "t", "type": "quantitative", "scale": {"domain": [0, 25.5], "range": [2409, 3674], "nice": false, "zero": false},
       "axis": {"orient": "bottom", "offset": -435, "values": [0,5,10,15,20,25], "labelExpr": "'' + datum.value", "tickSize": 21, "labelPadding": 34, "title": "Time (months)", "titleY": 206, "titleBaseline": "alphabetic"}},
     "y": {"field": "s", "type": "quantitative", "scale": {"domain": [0, 103], "range": [2716, 1863], "nice": false, "zero": false},
       "axis": {"orient": "left", "offset": -2409, "values": [0,20,40,60,80,100], "labelExpr": "'' + datum.value", "tickSize": 20, "labelPadding": 32, "title": "Percent survival", "titleX": -200, "titleBaseline": "alphabetic"}},
     "color": {"field": "g", "type": "nominal", "scale": {"domain": ["NB", "Br"], "range": ["#1835AA", "#A2001D"]},
       "legend": {"title": null, "legendX": 2803, "legendY": 1888, "labelExpr": "datum.label === 'Br' ? 'Bridging Therapy (n=62)' : 'No Bridging Therapy (n=62)'"}}
    }},
   {"data": {"name": "km"}, "transform": [{"filter": "datum.p === 'D' && datum.c === 1"}],
    "mark": {"type": "tick", "orient": "vertical", "thickness": 4, "size": 17, "yOffset": -8},
    "encoding": {
     "x": {"field": "t", "type": "quantitative", "axis": {"orient": "top", "offset": -2716, "values": [2.5,7.5,12.5,17.5,22.5], "tickSize": -11, "labels": false, "domain": false, "title": null}},
     "y": {"field": "s", "type": "quantitative", "axis": {"orient": "right", "offset": -1332, "values": [10,30,50,70,90], "tickSize": -10, "labels": false, "domain": false, "title": null}},
     "color": {"field": "g", "type": "nominal", "legend": null}}},
   {"data": {"values": [{}]}, "mark": {"type": "text", "text": "Overall Survival", "fontSize": 72, "align": "center", "baseline": "alphabetic"},
    "encoding": {"x": {"datum": 12.76, "type": "quantitative", "axis": null}, "y": {"datum": 108.0, "type": "quantitative", "axis": null}}},
   {"data": {"values": [{}]}, "mark": {"type": "text", "text": "D", "fontSize": 90, "fontWeight": "bold", "align": "center", "baseline": "alphabetic"},
    "encoding": {"x": {"datum": -9.05, "type": "quantitative", "axis": null}, "y": {"datum": 121.2, "type": "quantitative", "axis": null}}},
   {"data": {"values": [{}]}, "mark": {"type": "text", "text": ["1 yr OS 70% v 56%", "p=0.22"], "fontSize": 57, "lineHeight": 69, "align": "left", "baseline": "alphabetic"},
    "encoding": {"x": {"datum": 0.58, "type": "quantitative", "axis": null}, "y": {"datum": 12.6, "type": "quantitative", "axis": null}}}
  ]},
  {"data": {"name": "risk"}, "transform": [{"filter": "datum.p === 'D'"}],
   "mark": {"type": "text", "fontSize": 56, "align": "center", "baseline": "middle"},
   "encoding": {
    "x": {"field": "t", "type": "quantitative", "axis": null},
    "y": {"field": "r", "type": "nominal", "scale": {"type": "point", "domain": ["No Bridging", "Bridging"], "range": [2992, 3064], "padding": 0},
      "axis": {"orient": "left", "offset": -2078, "domain": false, "ticks": false, "tickSize": 0, "labelPadding": 0, "labelAlign": "center", "labelBaseline": "middle", "labelFontSize": 56, "labelLimit": 2000, "title": null}},
    "text": {"field": "n", "type": "quantitative"}
   }}
 ],
 "resolve": {"scale": {"y": "independent"}}
}
],
"resolve": {"scale": {"x": "independent", "y": "independent", "color": "independent"}}
}
